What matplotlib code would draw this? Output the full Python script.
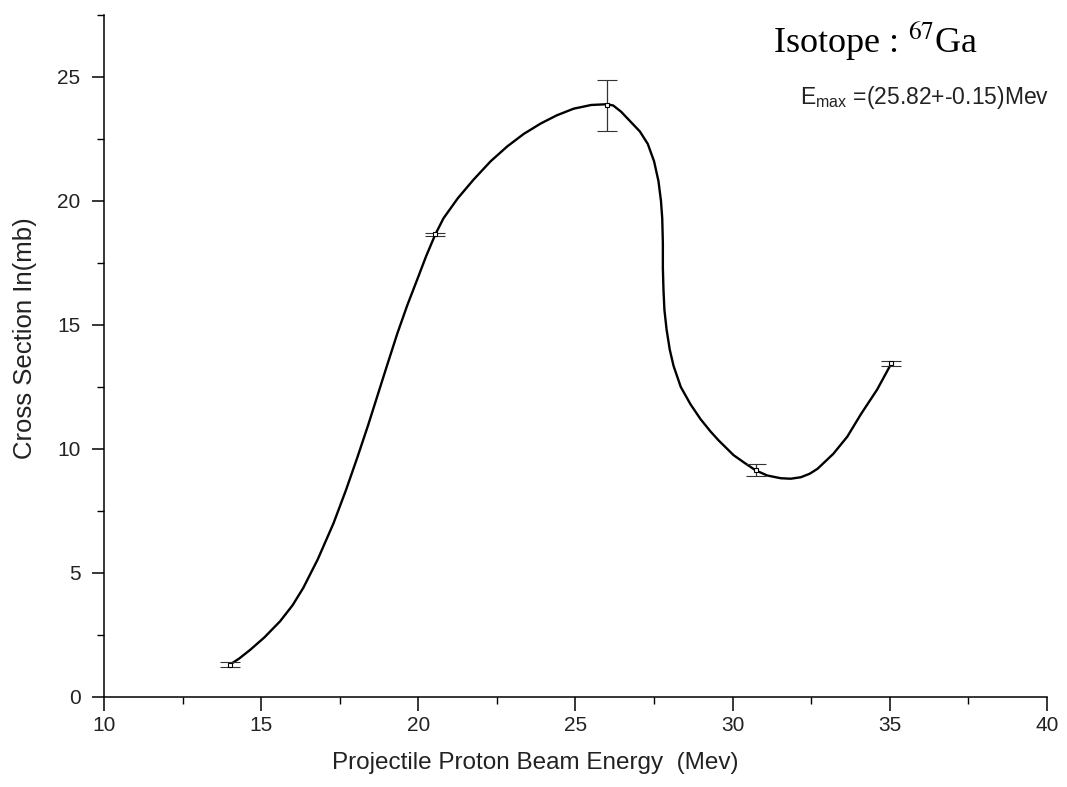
import matplotlib
matplotlib.use("Agg")
import matplotlib.pyplot as plt
from matplotlib.ticker import MultipleLocator

# Measured data points with error bars
energy = [14.0, 20.54, 26.0, 30.73, 35.05]
cross_section = [1.3, 18.65, 23.85, 9.14, 13.45]
cs_error = [0.1, 0.05, 1.03, 0.25, 0.1]

# Fitted curve
curve_x = [14.0, 14.3, 14.65, 15.1, 15.6, 16.0, 16.34, 16.8, 17.3, 17.7, 18.06, 18.4,
           18.7, 19.0, 19.33, 19.65, 19.97, 20.25, 20.54, 20.8, 21.25, 21.75, 22.3,
           22.83, 23.35, 23.89, 24.4, 24.94, 25.5, 26.0, 26.2, 26.45, 26.75, 27.05,
           27.3, 27.5, 27.64, 27.72, 27.76, 27.78, 27.78, 27.8, 27.83, 27.9, 28.0,
           28.12, 28.35, 28.66, 28.98, 29.3, 29.55, 30.03, 30.4, 30.73, 31.1, 31.53,
           31.85, 32.17, 32.45, 32.7, 33.2, 33.65, 34.08, 34.6, 35.05]
curve_y = [1.3, 1.55, 1.9, 2.4, 3.05, 3.7, 4.4, 5.55, 7.0, 8.35, 9.66, 10.95,
           12.15, 13.35, 14.65, 15.8, 16.85, 17.78, 18.65, 19.3, 20.1, 20.85, 21.6,
           22.2, 22.7, 23.12, 23.45, 23.72, 23.87, 23.9, 23.85, 23.6, 23.2, 22.8,
           22.3, 21.6, 20.8, 20.0, 19.3, 18.3, 17.3, 16.4, 15.6, 14.8, 14.0,
           13.35, 12.5, 11.8, 11.2, 10.7, 10.35, 9.75, 9.42, 9.14, 8.93, 8.82,
           8.8, 8.86, 9.0, 9.2, 9.8, 10.5, 11.4, 12.4, 13.45]

x_ticks = [10, 15, 20, 25, 30, 35, 40]
y_ticks = [0, 5, 10, 15, 20, 25]

plt.rcParams['font.family'] = ['Liberation Sans', 'DejaVu Sans']

fig = plt.figure(figsize=(10.67, 7.87), dpi=100)
ax = fig.add_axes([0.0975, 0.1144, 0.8837, 0.8666])

ax.plot(curve_x, curve_y, color='black', lw=1.7, solid_joinstyle='round', zorder=3)
ax.errorbar(energy, cross_section, yerr=cs_error, fmt='s', ms=3.5, mfc='white', mec='black',
            mew=0.8, ecolor='#333333', elinewidth=0.9, capsize=7, capthick=0.9, zorder=4)

ax.set_xlim(10, 40)
ax.set_ylim(0, 27.5)
ax.set_xticks(x_ticks)
ax.set_yticks(y_ticks)
ax.xaxis.set_minor_locator(MultipleLocator(2.5))
ax.yaxis.set_minor_locator(MultipleLocator(2.5))

for s in ['top', 'right']:
    ax.spines[s].set_visible(False)
for s in ['left', 'bottom']:
    ax.spines[s].set_linewidth(1.1)

ax.tick_params(axis='x', which='major', direction='out', length=10, width=1.1,
               labelsize=15, pad=4, colors='black')
ax.tick_params(axis='y', which='major', direction='out', length=9, width=1.1,
               labelsize=15, pad=8, colors='black')
ax.tick_params(axis='both', which='minor', direction='out', length=5, width=1.0)
for lab in ax.get_xticklabels() + ax.get_yticklabels():
    lab.set_color('#222222')

ax.set_xlabel('Projectile Proton Beam Energy  (Mev)', fontsize=17.5, color='#222222')
ax.xaxis.set_label_coords(0.457, -0.08)
ax.set_ylabel('Cross Section In(mb)', fontsize=18.5, color='#222222')
ax.yaxis.set_label_coords(-0.071, 0.526)

fig.text(0.724, 0.934, r'Isotope : $^{67}$Ga', fontsize=26, family='Liberation Serif',
         color='black', ha='left', va='baseline',
         math_fontfamily='stix')
fig.text(0.75, 0.868, r'E$_{\mathregular{max}}$ =(25.82+-0.15)Mev', fontsize=16.5,
         color='#222222', ha='left', va='baseline')

fig.savefig('out.png', dpi=100)
